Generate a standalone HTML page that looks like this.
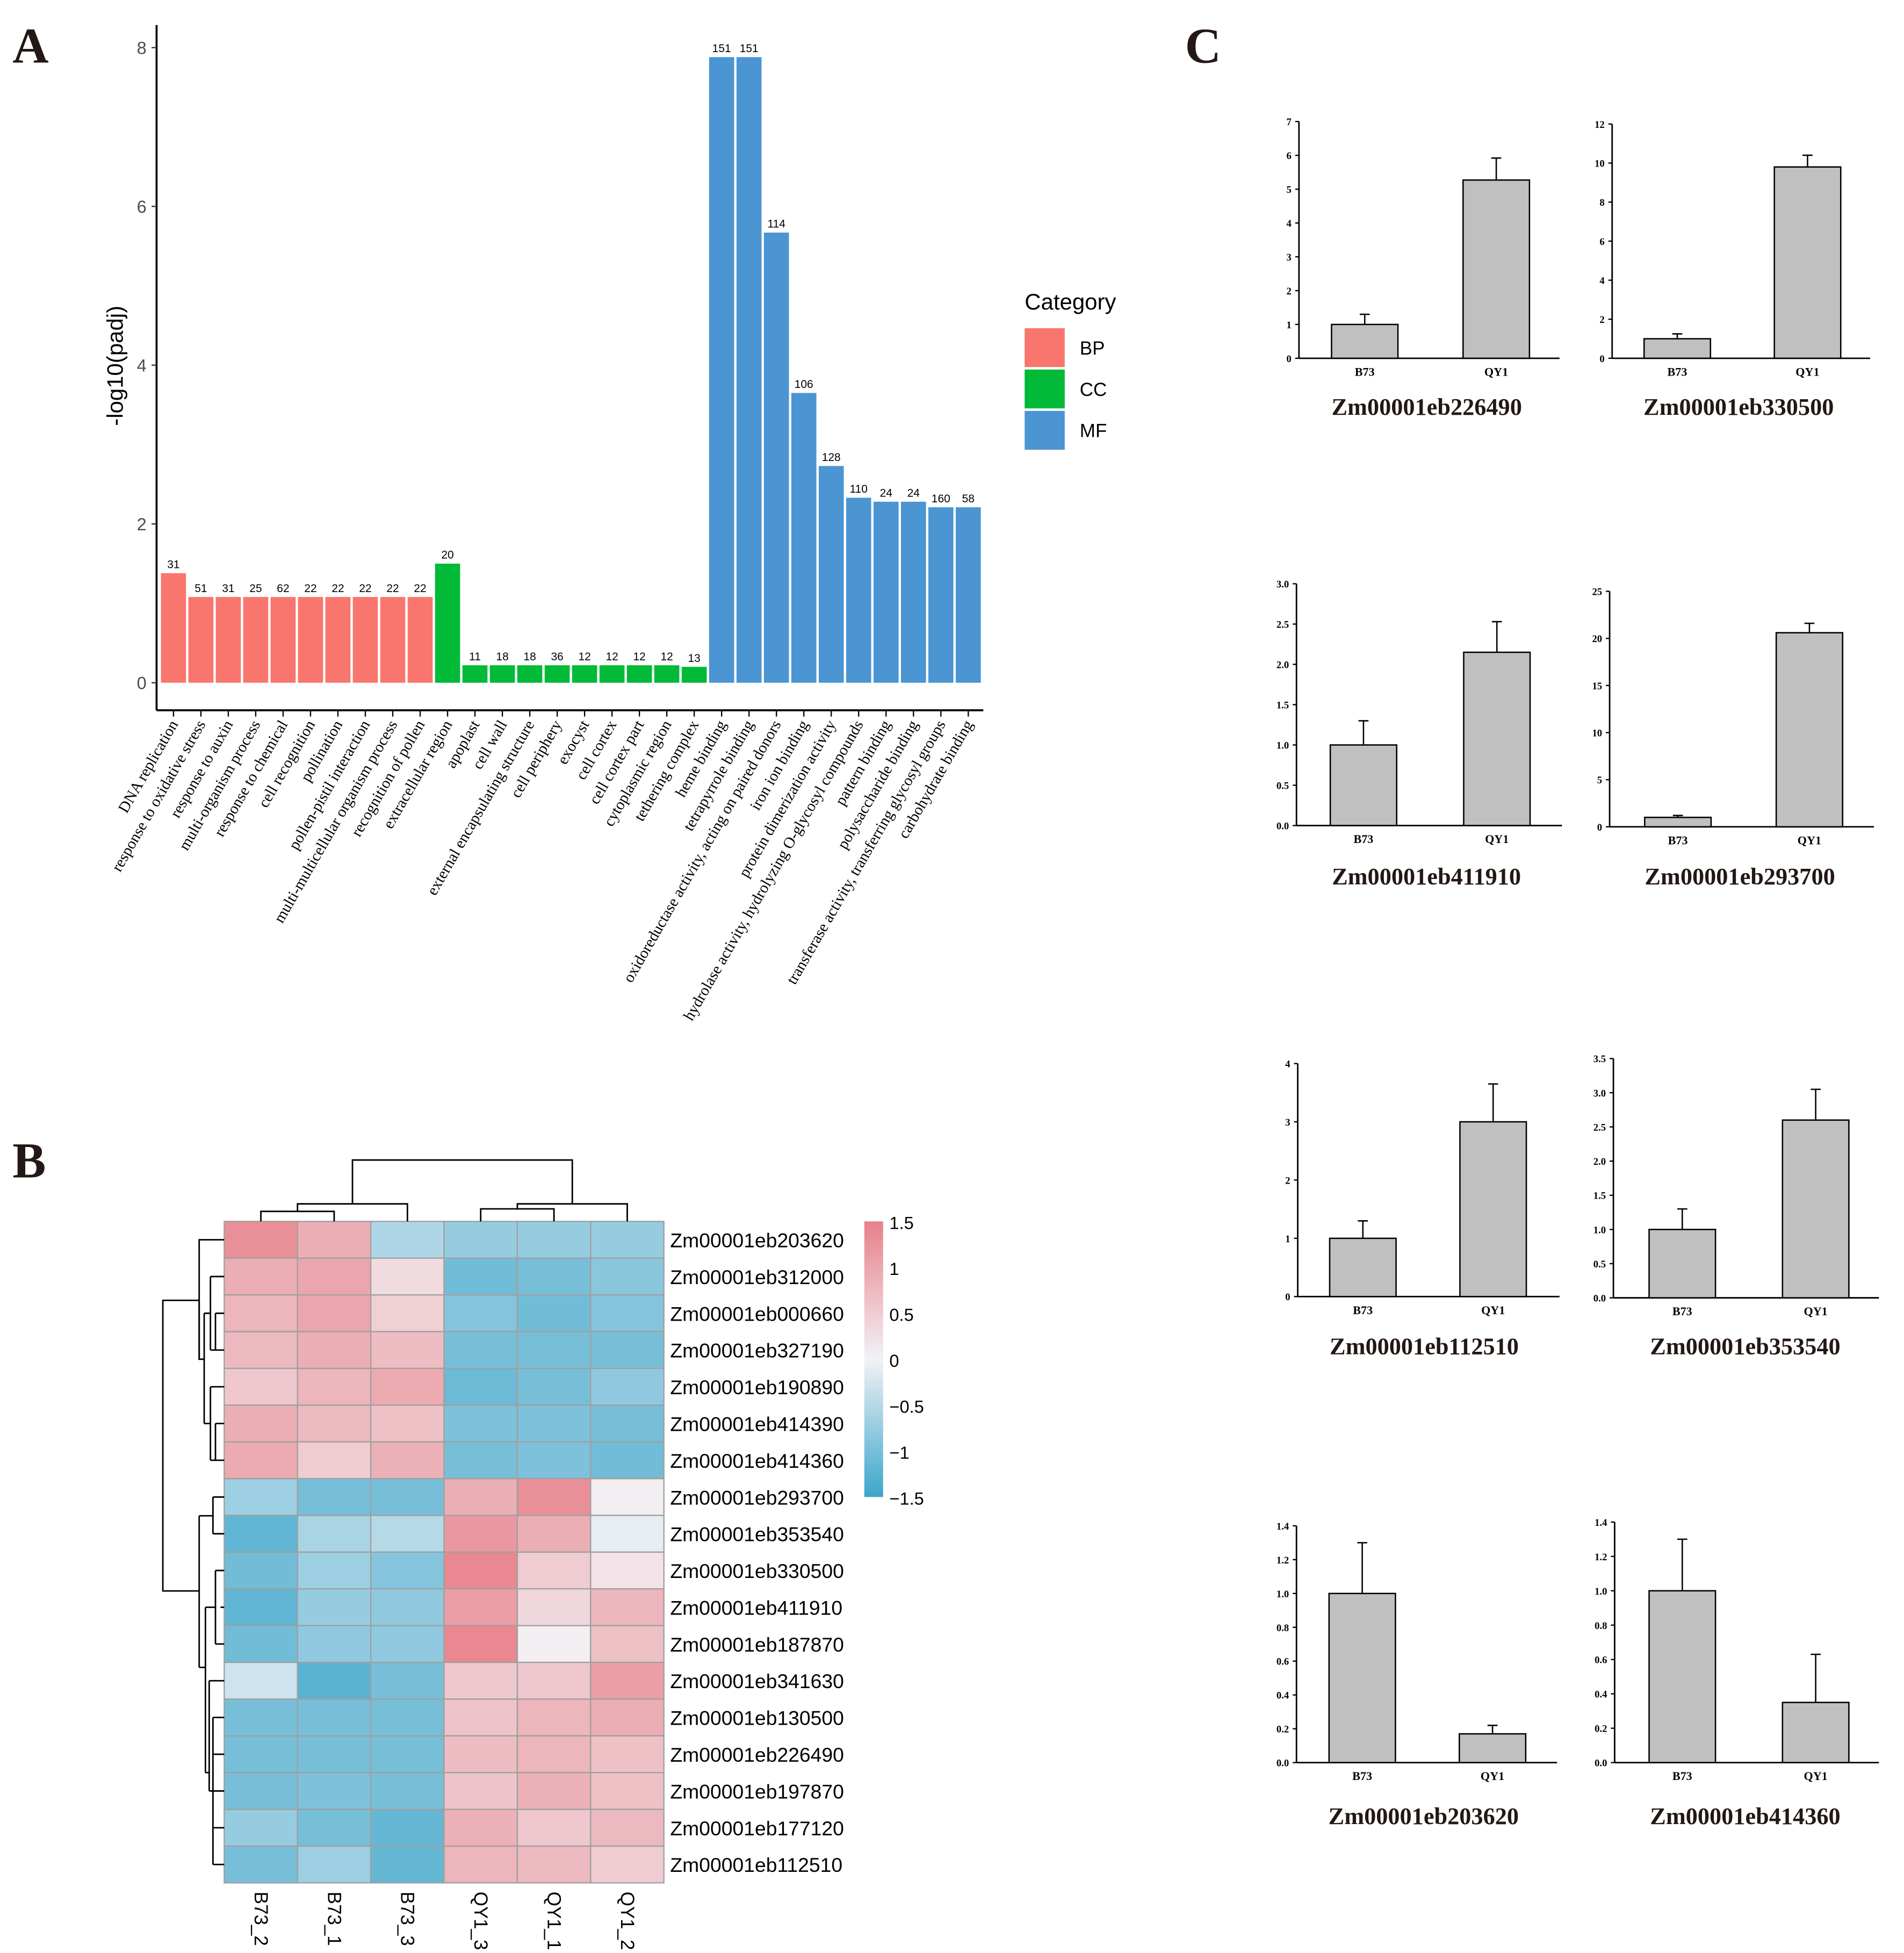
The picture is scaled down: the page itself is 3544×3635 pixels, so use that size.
<!DOCTYPE html>
<html><head><meta charset="utf-8">
<style>
html,body{margin:0;padding:0;background:#fff;}
svg{display:block;}
.serif{font-family:"Liberation Serif",serif;}
.sans{font-family:"Liberation Sans",sans-serif;}
</style></head>
<body>
<svg id="fig" width="3544" height="3635" viewBox="0 0 1520 1559" preserveAspectRatio="none" xmlns="http://www.w3.org/2000/svg">
<rect width="1520" height="1559" fill="#fff"/>
<text x="10" y="50" class="serif" font-size="40" font-weight="bold" fill="#231815">A</text>
<text x="10" y="940" class="serif" font-size="40" font-weight="bold" fill="#231815">B</text>
<text x="946" y="50" class="serif" font-size="40" font-weight="bold" fill="#231815">C</text>
<g id="gA"></g>
<g id="gB"></g>
<g id="gC"></g>
</svg>
<script>
// ---------- Panel A data ----------
const goTerms = ["DNA replication","response to oxidative stress","response to auxin","multi-organism process","response to chemical","cell recognition","pollination","pollen-pistil interaction","multi-multicellular organism process","recognition of pollen","extracellular region","apoplast","cell wall","external encapsulating structure","cell periphery","exocyst","cell cortex","cell cortex part","cytoplasmic region","tethering complex","heme binding","tetrapyrrole binding","oxidoreductase activity, acting on paired donors","iron ion binding","protein dimerization activity","hydrolase activity, hydrolyzing O-glycosyl compounds","pattern binding","polysaccharide binding","transferase activity, transferring glycosyl groups","carbohydrate binding"];
const goCategory = ["BP","BP","BP","BP","BP","BP","BP","BP","BP","BP","CC","CC","CC","CC","CC","CC","CC","CC","CC","CC","MF","MF","MF","MF","MF","MF","MF","MF","MF","MF"];
const goValues = [1.38,1.08,1.08,1.08,1.08,1.08,1.08,1.08,1.08,1.08,1.5,0.22,0.22,0.22,0.22,0.22,0.22,0.22,0.22,0.2,7.88,7.88,5.67,3.65,2.73,2.33,2.28,2.28,2.21,2.21];
const goCounts = [31,51,31,25,62,22,22,22,22,22,20,11,18,18,36,12,12,12,12,13,151,151,114,106,128,110,24,24,160,58];
const goTicks = [0,2,4,6,8];
const catNames = ["BP","CC","MF"];
const catColors = {BP:"#F8766D",CC:"#00BA38",MF:"#4B95D2"};

// ---------- Panel B data ----------
const hmCols = ["B73_2","B73_1","B73_3","QY1_3","QY1_1","QY1_2"];
const hmRows = ["Zm00001eb203620","Zm00001eb312000","Zm00001eb000660","Zm00001eb327190","Zm00001eb190890","Zm00001eb414390","Zm00001eb414360","Zm00001eb293700","Zm00001eb353540","Zm00001eb330500","Zm00001eb411910","Zm00001eb187870","Zm00001eb341630","Zm00001eb130500","Zm00001eb226490","Zm00001eb197870","Zm00001eb177120","Zm00001eb112510"];
const hmValues = [
[1.3,0.9,-0.55,-0.75,-0.75,-0.75],
[0.9,1.0,0.3,-1.05,-1.0,-0.85],
[0.8,1.0,0.45,-0.9,-1.05,-0.9],
[0.75,0.9,0.7,-1.0,-1.0,-1.0],
[0.55,0.8,0.95,-1.1,-1.0,-0.8],
[0.9,0.75,0.65,-0.95,-0.95,-1.0],
[0.95,0.5,0.85,-1.0,-0.95,-1.05],
[-0.7,-1.0,-1.0,0.9,1.3,0.05],
[-1.2,-0.6,-0.5,1.2,0.9,-0.1],
[-1.05,-0.7,-0.9,1.4,0.5,0.2],
[-1.2,-0.75,-0.8,1.1,0.35,0.8],
[-1.05,-0.8,-0.8,1.4,0.05,0.65],
[-0.3,-1.25,-1.0,0.55,0.55,1.1],
[-1.0,-1.0,-1.0,0.6,0.8,0.9],
[-1.0,-1.0,-1.0,0.7,0.8,0.65],
[-1.0,-0.95,-1.0,0.6,0.85,0.65],
[-0.75,-1.0,-1.15,0.85,0.55,0.75],
[-1.0,-0.7,-1.15,0.8,0.75,0.5]];
const cbTicks = [1.5,1,0.5,0,-0.5,-1,-1.5];

// ---------- Panel C data ----------
const qGenes = ["Zm00001eb226490","Zm00001eb330500","Zm00001eb411910","Zm00001eb293700","Zm00001eb112510","Zm00001eb353540","Zm00001eb203620","Zm00001eb414360"];
const qGroups = ["B73","QY1"];
const qMeans = [[1,5.27],[1,9.8],[1,2.15],[1,20.6],[1,3.0],[1,2.6],[1,0.17],[1,0.35]];
const qErrs = [[0.3,0.65],[0.25,0.6],[0.3,0.38],[0.2,1.0],[0.3,0.65],[0.3,0.45],[0.3,0.05],[0.3,0.28]];
const qMax = [7,12,3,25,4,3.5,1.4,1.4];
const qStep = [1,2,0.5,5,1,0.5,0.2,0.2];
const qDec = [0,0,1,0,0,1,1,1];

const NS="http://www.w3.org/2000/svg";
function mk(tag, attrs, parent, txt){
  const e=document.createElementNS(NS,tag);
  for(const k in attrs) e.setAttribute(k,attrs[k]);
  if(txt!==undefined) e.textContent=txt;
  parent.appendChild(e); return e;
}

// ---------- Draw A ----------
(function(){
  const g=document.getElementById('gA');
  const y0=545, yTop8=38, ax=125;
  const yS=v=>y0-(y0-yTop8)*v/8;
  const x0=138.5;
  const step=(773-138.5)/(goValues.length-1);
  const xS=i=>x0+i*step;
  const bw=20;
  let l=mk('line',{x1:ax,y1:20,x2:ax,y2:567,stroke:'#000','stroke-width':1.6},g);
   
  l=mk('line',{x1:ax,y1:567,x2:785,y2:567,stroke:'#000','stroke-width':1.6},g);
   
  goTicks.forEach(t=>{
    const y=yS(t);
    const tk=mk('line',{x1:ax-4,y1:y,x2:ax,y2:y,stroke:'#333','stroke-width':1},g);
     
    const tl=mk('text',{x:ax-8,y:y+5,'text-anchor':'end','font-size':14,fill:'#4d4d4d',class:'sans'},g,String(t));
     
  });
  const yt=mk('text',{transform:'translate(98,292) rotate(-90)','text-anchor':'middle','font-size':18,fill:'#000',class:'sans'},g,'-log10(padj)');
   
  goValues.forEach((v,i)=>{
    const x=xS(i);
    const r=mk('rect',{x:x-bw/2,y:yS(v),width:bw,height:y0-yS(v),fill:catColors[goCategory[i]]},g);
     
    const c=mk('text',{x:x,y:yS(v)-4,'text-anchor':'middle','font-size':9,fill:'#000',class:'sans'},g,String(goCounts[i]));
     
    const tk=mk('line',{x1:x,y1:567,x2:x,y2:572,stroke:'#000','stroke-width':1},g);
     
    const lb=mk('text',{transform:`translate(${x+4},${578}) rotate(-60)`,'text-anchor':'end','font-size':12.5,fill:'#000',class:'serif'},g,goTerms[i]);
     
  });
  const lt=mk('text',{x:818,y:247,'font-size':18,fill:'#000',class:'sans'},g,'Category');
   
  catNames.forEach((c,i)=>{
    const y=262+i*33;
    const s=mk('rect',{x:818,y:y,width:32,height:31,fill:catColors[c]},g);
     
    const t=mk('text',{x:862,y:y+21,'font-size':15,fill:'#000',class:'sans'},g,c);
     
  });
})();

// ---------- Draw B ----------
(function(){
  const g=document.getElementById('gB');
  const x0=179,y0=975,cw=(530-179)/6,rh=(1503-975)/18;
  const neg=[58,166,202], mid=[242,242,246], pos=[232,128,137];
  function col(v){
    v=Math.max(-1.5,Math.min(1.5,v));
    const t=Math.abs(v)/1.5, e=v<0?neg:pos;
    const c=mid.map((m,k)=>Math.round(m+(e[k]-m)*t));
    return `rgb(${c[0]},${c[1]},${c[2]})`;
  }
  hmValues.forEach((row,r)=>row.forEach((v,c)=>{
    const rc=mk('rect',{x:x0+c*cw,y:y0+r*rh,width:cw,height:rh,fill:col(v),stroke:'#a0a0a0','stroke-width':1},g);
     
  }));
  hmRows.forEach((n,r)=>{
    const t=mk('text',{x:535,y:y0+r*rh+rh/2+6,'font-size':16,fill:'#000',class:'sans'},g,n);
     
  });
  hmCols.forEach((n,c)=>{
    const x=x0+c*cw+cw/2;
    const t=mk('text',{transform:`translate(${x-5},1510) rotate(90)`,'font-size':15,fill:'#000',class:'sans'},g,n);
     
  });
  const defs=mk('defs',{},g);
  const lg=mk('linearGradient',{id:'cbg',x1:0,y1:0,x2:0,y2:1},defs);
  [1.5,0,-1.5].forEach((v,i)=>mk('stop',{offset:(i*50)+'%','stop-color':col(v)},lg));
  const cb=mk('rect',{x:690,y:975,width:15,height:220,fill:'url(#cbg)'},g);
   
  cbTicks.forEach(t=>{
    const y=975+(1.5-t)/3*220;
    const s=(t<0?'\u2212'+Math.abs(t):String(t));
    const tl=mk('text',{x:710,y:y+6,'font-size':14,fill:'#000',class:'sans'},g,s);
     
  });
  const cx=c=>x0+c*cw+cw/2, ry=r=>y0+r*rh+rh/2;
  const st={stroke:'#000','stroke-width':1.2,fill:'none'};
  function seg(d,name){const p=mk('path',Object.assign({d:d},st),g);}
  const m01=(cx(0)+cx(1))/2, mL=(m01+cx(2))/2, m34=(cx(3)+cx(4))/2, mR=(m34+cx(5))/2;
  seg(`M${cx(0)},975V967H${cx(1)}V975`,'col-dendrogram');
  seg(`M${m01},967V961H${cx(2)}V975`,'col-dendrogram');
  seg(`M${cx(3)},975V965H${cx(4)}V975`,'col-dendrogram');
  seg(`M${m34},965V961H${cx(5)}V975`,'col-dendrogram');
  seg(`M${mL},961V926H${mR}V961`,'col-dendrogram');
  seg(`M179,${ry(0)}H159V1085H163`,'row-dendrogram');
  seg(`M163,${(ry(1)+ry(3))/2}V${(ry(4)+ry(6))/2}`,'row-dendrogram');
  seg(`M163,${(ry(1)+ry(3))/2}H168M168,${ry(1)}V${ry(3)}M168,${ry(1)}H179M168,${ry(3)}H179M172,${ry(2)}H179M172,${ry(2)}V${ry(3)}`,'row-dendrogram');
  seg(`M163,${(ry(4)+ry(6))/2}H168M168,${ry(4)}V${ry(6)}M168,${ry(4)}H179M168,${ry(6)}H179M172,${ry(5)}H179M172,${ry(5)}V${ry(6)}`,'row-dendrogram');
  seg(`M159,1085V1038H130V1270H159`,'row-dendrogram');
  seg(`M159,1210V1331`,'row-dendrogram');
  seg(`M159,1210H170M170,${ry(7)}V${ry(8)}M170,${ry(7)}H179M170,${ry(8)}H179`,'row-dendrogram');
  seg(`M159,1331H164M164,${(ry(9)+ry(11))/2}V${(ry(12)+ry(17))/2}`,'row-dendrogram');
  seg(`M164,${(ry(9)+ry(11))/2}H172M172,${ry(9)}V${ry(11)}M172,${ry(9)}H179M172,${ry(11)}H179M176,${ry(10)}H179`,'row-dendrogram');
  seg(`M164,${(ry(12)+ry(17))/2}H167M167,${ry(12)}V${(ry(13)+ry(17))/2}M167,${ry(12)}H179M167,${(ry(13)+ry(17))/2}H170M170,${ry(13)}V${ry(17)}`,'row-dendrogram');
  seg(`M170,${ry(13)}H179M170,${ry(14)}H179M170,${ry(15)}H179M170,${ry(16)}H179M170,${ry(17)}H179`,'row-dendrogram');
})();

// ---------- Draw C ----------
(function(){
  const g=document.getElementById('gC');
  const layout=[[1037,97,286,1245,1089.5,1194.5],[1287,99,286,1493,1339,1443],
                [1035,466,659,1247,1088.5,1195],[1285,472,660,1496,1339.5,1444.5],
                [1036,849,1035,1245,1088,1192],[1288,845,1036,1500,1343,1449.5],
                [1035,1218,1407,1243,1087.5,1191.5],[1289,1215,1407,1500,1343,1449.5]];
  const titleY=[325,325,700,700,1075,1075,1450,1450];
  qGenes.forEach((gene,i)=>{
    const [ax,yt,yb,xe,c1,c2]=layout[i];
    const sg=mk('g',{},g);
     
    const yS=v=>yb-(yb-yt)*v/qMax[i];
    let l=mk('line',{x1:ax,y1:yt,x2:ax,y2:yb,stroke:'#000','stroke-width':1.2},sg);
     
    l=mk('line',{x1:ax,y1:yb,x2:xe,y2:yb,stroke:'#000','stroke-width':1.2},sg);
     
    const n=Math.round(qMax[i]/qStep[i]);
    for(let k=0;k<=n;k++){
      const v=k*qStep[i], y=yS(v);
      const tk=mk('line',{x1:ax-3,y1:y,x2:ax,y2:y,stroke:'#000','stroke-width':1},sg);
       
      const tl=mk('text',{x:ax-6,y:y+3,'text-anchor':'end','font-size':8,'font-weight':'bold',fill:'#000',class:'serif'},sg,v.toFixed(qDec[i]));
       
    }
    [c1,c2].forEach((cx,j)=>{
      const m=qMeans[i][j], e=qErrs[i][j];
      const el=mk('path',{d:`M${cx},${yS(m)}V${yS(m+e)}M${cx-4},${yS(m+e)}H${cx+4}`,stroke:'#000','stroke-width':1.1,fill:'none'},sg);
       
      const r=mk('rect',{x:cx-26.5,y:yS(m),width:53,height:yb-yS(m),fill:'#c0c0c0',stroke:'#000','stroke-width':1.1},sg);
       
      const t=mk('text',{x:cx,y:yb+14,'text-anchor':'middle','font-size':9.5,'font-weight':'bold',fill:'#000',class:'serif'},sg,qGroups[j]);
       
    });
    const tt=mk('text',{x:(c1+c2)/2-3,y:titleY[i]+6,'text-anchor':'middle','font-size':19,'font-weight':'bold',fill:'#231815',class:'serif'},sg,gene);
     
  });
})();
</script>
</body></html>
